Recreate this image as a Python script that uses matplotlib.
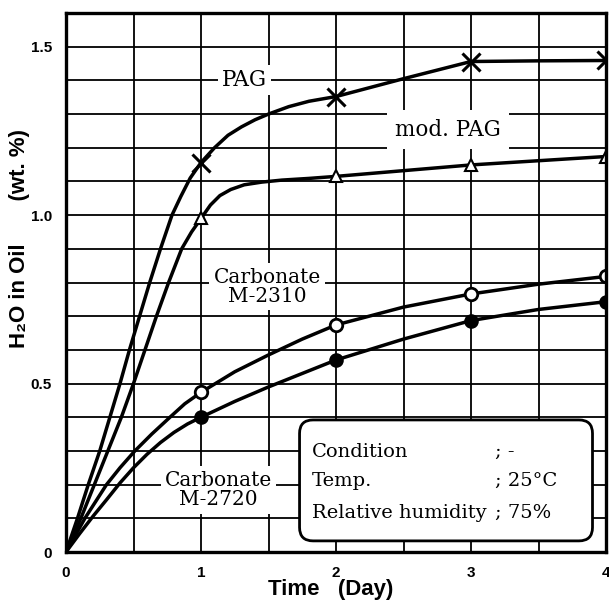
import matplotlib
matplotlib.use("Agg")
import matplotlib.pyplot as plt
from matplotlib.patches import FancyBboxPatch
import numpy as np

# ---- data ----
days = [1, 2, 3, 4]
pag_pts = [1.156, 1.352, 1.456, 1.459]
modpag_pts = [0.99, 1.115, 1.149, 1.174]
m2310_pts = [0.474, 0.674, 0.766, 0.818]
m2720_pts = [0.400, 0.570, 0.687, 0.743]

# points along the drawn (hand-smoothed) curves
pag_cx = [0, 0.085, 0.165, 0.25, 0.325, 0.40, 0.47, 0.545, 0.62, 0.70, 0.785, 0.85, 0.92, 1.0,
          1.1, 1.2, 1.3, 1.4, 1.5, 1.65, 1.8, 2.0, 2.5, 3.0, 3.5, 4.0]
pag_cy = [0, 0.10, 0.20, 0.30, 0.40, 0.50, 0.60, 0.70, 0.80, 0.90, 1.00, 1.055, 1.11, 1.156,
          1.20, 1.237, 1.262, 1.283, 1.30, 1.322, 1.338, 1.352, 1.405, 1.456, 1.458, 1.459]
mod_cx = [0, 0.11, 0.21, 0.31, 0.41, 0.50, 0.585, 0.67, 0.76, 0.857, 0.93, 1.0, 1.07,
          1.14, 1.22, 1.32, 1.45, 1.6, 1.8, 2.0, 3.0, 4.0]
mod_cy = [0, 0.10, 0.20, 0.30, 0.40, 0.50, 0.60, 0.70, 0.80, 0.90, 0.95, 0.99, 1.03,
          1.058, 1.076, 1.09, 1.098, 1.104, 1.109, 1.115, 1.149, 1.174]
m2310_cx = [0, 0.07, 0.14, 0.22, 0.30, 0.40, 0.51, 0.635, 0.77, 0.88, 1.0, 1.25, 1.5, 1.75,
            2.0, 2.5, 3.0, 3.5, 4.0]
m2310_cy = [0, 0.05, 0.10, 0.15, 0.20, 0.25, 0.30, 0.35, 0.40, 0.44, 0.474, 0.535, 0.585, 0.632,
            0.674, 0.727, 0.766, 0.795, 0.818]
m2720_cx = [0, 0.1, 0.2, 0.3, 0.4, 0.5, 0.6, 0.7, 0.8, 0.9, 1.0, 1.25, 1.5, 1.75,
            2.0, 2.5, 3.0, 3.5, 4.0]
m2720_cy = [0, 0.054, 0.106, 0.155, 0.205, 0.25, 0.29, 0.325, 0.355, 0.38, 0.40, 0.447, 0.49, 0.53,
            0.570, 0.632, 0.687, 0.72, 0.743]

x_ticks = [0, 1, 2, 3, 4]
x_ticklabels = ["0", "1", "2", "3", "4"]
y_ticks = [0, 0.5, 1.0, 1.5]
y_ticklabels = ["0", "0.5", "1.0", "1.5"]

serif = ["DejaVu Serif"]
sans = ["Liberation Sans", "DejaVu Sans"]

fig = plt.figure(figsize=(6.09, 6.08), dpi=100)
ax = fig.add_axes([66 / 609, 56 / 608, 540 / 609, 539 / 608])
ax.set_xlim(0, 4)
ax.set_ylim(0, 1.6)

ax.set_xticks(x_ticks)
ax.set_xticklabels(x_ticklabels, fontfamily=sans, fontweight="bold", fontsize=11)
ax.set_yticks(y_ticks)
ax.set_yticklabels(y_ticklabels, fontfamily=sans, fontweight="bold", fontsize=11)
ax.set_xticks(np.arange(0, 4.01, 0.5), minor=True)
ax.set_yticks(np.arange(0, 1.601, 0.1), minor=True)
ax.tick_params(which="both", length=0)
ax.tick_params(axis="y", pad=10)
ax.tick_params(axis="x", pad=10)
ax.grid(True, which="both", color="black", linewidth=1.3, zorder=0)
ax.set_axisbelow(True)
for s in ax.spines.values():
    s.set_linewidth(2.4)
    s.set_zorder(6)

lw = 2.5
for cx, cy in [(pag_cx, pag_cy), (mod_cx, mod_cy), (m2310_cx, m2310_cy), (m2720_cx, m2720_cy)]:
    ax.plot(cx, cy, color="black", lw=lw, zorder=3, solid_joinstyle="round")

ax.plot(days, pag_pts, linestyle="none", marker="x", ms=13, mew=2.2, color="black", zorder=5)
ax.plot(days, modpag_pts, linestyle="none", marker="^", ms=9, mew=1.5, mfc="white", mec="black", zorder=5)
ax.plot(days, m2310_pts, linestyle="none", marker="o", ms=9, mew=2, mfc="white", mec="black", zorder=5)
ax.plot(days, m2720_pts, linestyle="none", marker="o", ms=9, mew=1.5, mfc="black", mec="black", zorder=5)

bbox_w = dict(facecolor="white", edgecolor="none", pad=3)
ax.text(1.32, 1.40, "PAG", fontfamily=serif, fontsize=15.5, ha="center", va="center", bbox=bbox_w, zorder=4)
ax.text(2.83, 1.253, "mod. PAG", fontfamily=serif, fontsize=15.5, ha="center", va="center",
        bbox=dict(facecolor="white", edgecolor="none", pad=6), zorder=4)
ax.text(1.49, 0.787, "Carbonate\nM-2310", fontfamily=serif, fontsize=14.5, ha="center", va="center",
        linespacing=1.05, bbox=bbox_w, zorder=4)
ax.text(1.13, 0.184, "Carbonate\nM-2720", fontfamily=serif, fontsize=14.5, ha="center", va="center",
        linespacing=1.05, bbox=bbox_w, zorder=4)

box = FancyBboxPatch((1.73, 0.033), 2.17, 0.359, boxstyle="round,pad=0,rounding_size=0.1",
                     transform=ax.transData, facecolor="white", edgecolor="black", lw=2.0, zorder=4,
                     mutation_aspect=0.4)
ax.add_patch(box)
cond_labels = ["Condition", "Temp.", "Relative humidity"]
cond_values = ["; -", "; 25\u00b0C", "; 75%"]
cond_y = [0.297, 0.211, 0.116]
for lab, val, yy in zip(cond_labels, cond_values, cond_y):
    ax.text(1.82, yy, lab, fontfamily=serif, fontsize=14, ha="left", va="center", zorder=5)
    ax.text(3.18, yy, val, fontfamily=serif, fontsize=14, ha="left", va="center", zorder=5)

fig.text(20 / 609, 1 - 238 / 608, "H\u2082O in Oil       (wt. %)", rotation=90, fontfamily=sans,
         fontweight="bold", fontsize=16, ha="center", va="center")
fig.text(331 / 609, 1 - 590 / 608, "Time   (Day)", fontfamily=sans, fontweight="bold", fontsize=16,
         ha="center", va="center")

fig.savefig("out.png", dpi=100)
